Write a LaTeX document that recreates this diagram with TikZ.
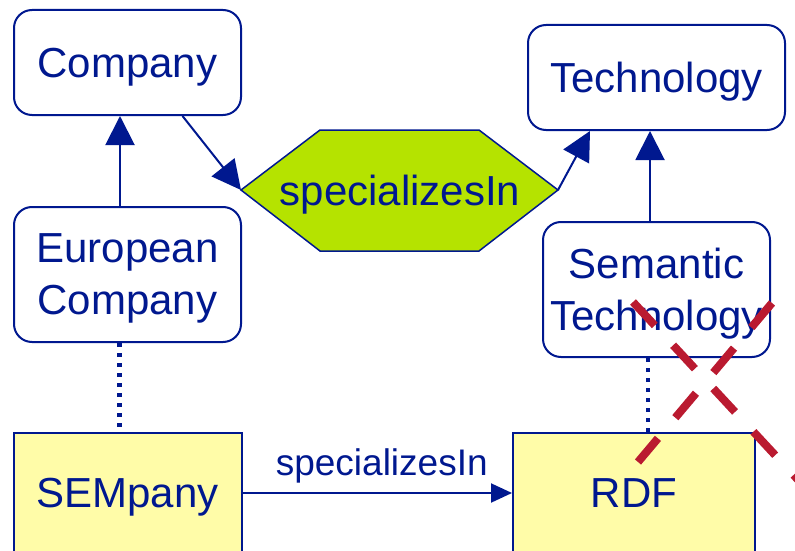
\documentclass[tikz,border=0pt]{standalone}
\usepackage{fontspec}
\setmainfont{Liberation Sans}
\usetikzlibrary{arrows.meta}

\definecolor{navy}{RGB}{0,24,143}
\definecolor{lime}{RGB}{181,227,0}
\definecolor{paleyellow}{RGB}{255,252,168}
\definecolor{crossred}{RGB}{186,26,48}

\tikzset{
  big/.style={font=\fontsize{42}{52}\selectfont, text=navy, text depth=0pt},
  classbox/.style={big, draw=navy, line width=2pt, fill=white, rounded corners=18pt,
    inner sep=0pt, align=center},
  instbox/.style={big, draw=navy, line width=2pt, fill=paleyellow, inner sep=0pt},
  isa/.style={draw=navy, line width=2pt, -{Triangle[length=29pt,width=29pt]}},
  relarrow/.style={draw=navy, line width=2pt, -{Triangle[length=21pt,width=19pt]}},
  typeof/.style={draw=navy, line width=4.5pt, dash pattern=on 4pt off 6pt},
  hexshape/.style={fill=lime, draw=navy, line width=1.5pt},
  cross/.style={draw=crossred, line width=8pt, dash pattern=on 32pt off 27pt},
}

\begin{document}
\begin{tikzpicture}[x=1pt,y=-1pt]
  \useasboundingbox (0,0) rectangle (795,551);
  \clip (0,0) rectangle (795,551);

  % classes
  \node[classbox, minimum width=227pt, minimum height=105pt] (comp) at (127.5,62.5) {Company};
  \node[classbox, minimum width=257pt, minimum height=105pt] (tech) at (656.5,77.5) {Technology};
  \node[classbox, minimum width=227pt, minimum height=135pt] (eu) at (127.5,274.5) {European\\Company};
  \node[classbox, minimum width=227pt, minimum height=135pt] (st) at (656.5,289.5) {Semantic\\Technology};

  % instances
  \node[instbox, minimum width=228pt, minimum height=120pt] (sem) at (127.5,493) {SEMpany};
  \node[instbox, minimum width=242pt, minimum height=120pt] (rdf) at (634,493) {RDF};

  % relation hexagon
  \coordinate (hexW) at (241,190);
  \coordinate (hexNW) at (320,130);
  \coordinate (hexNE) at (479,130);
  \coordinate (hexE) at (558,190);
  \coordinate (hexSE) at (479,251);
  \coordinate (hexSW) at (320,251);
  \draw[hexshape] (hexW) -- (hexNW) -- (hexNE) -- (hexE) -- (hexSE) -- (hexSW) -- cycle;
  \node[big, inner sep=0pt] (hex) at (400,190.5) {specializesIn};

  % subclass arrows
  \draw[isa] ([xshift=-7.5pt]eu.north) -- ([xshift=-7.5pt]comp.south);
  \draw[isa] ([xshift=-6.5pt]st.north) -- ([xshift=-6.5pt]tech.south);

  % domain and range of the relation
  \draw[isa] ([xshift=55pt]comp.south) -- (hexW);
  \draw[isa] (hexE) -- ([xshift=-66.5pt]tech.south);

  % instance-of links
  \draw[typeof] ([xshift=-8pt]eu.south) -- ([xshift=-8pt]eu.south |- sem.north);
  \draw[typeof] ([xshift=-8.5pt]st.south) -- ([xshift=-8.5pt]st.south |- rdf.north);

  % relation between instances
  \draw[relarrow] (sem.east) -- node[midway, above=9pt, xshift=4.5pt, inner sep=0pt,
    font=\fontsize{37}{44}\selectfont, text=navy] (rellabel) {specializesIn} (rdf.west);

  % crossed-out statement
  \coordinate (xa1) at (633,302);
  \coordinate (xa2) at (846,531.5);
  \coordinate (xb1) at (772,303);
  \coordinate (xb2) at (638,462);
  \draw[cross] (xa1) -- (xa2);
  \draw[cross] (xb1) -- (xb2);
\end{tikzpicture}
\end{document}
